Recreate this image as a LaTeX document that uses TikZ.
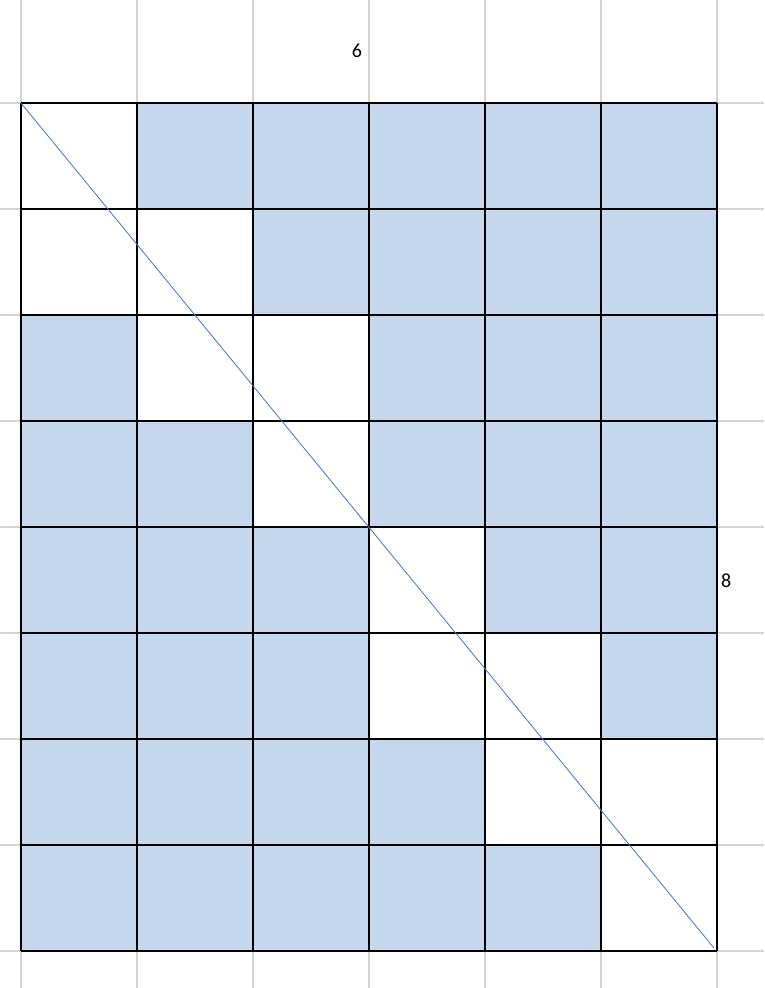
\documentclass[tikz,border=0pt]{standalone}
\usepackage{fontspec}
\setmainfont{Carlito}
\definecolor{cellblue}{RGB}{196,215,237}
\definecolor{gridgray}{RGB}{212,212,212}
\definecolor{diagblue}{RGB}{68,114,196}
\begin{document}
\begin{tikzpicture}[x=1pt,y=-1pt,
  gridline/.style={draw=gridgray,line width=1.6pt},
  frameline/.style={draw=black,line width=1.8pt},
  bluecell/.style={fill=cellblue},
  lbl/.style={font=\fontsize{20}{24}\selectfont,inner sep=0pt}]
\useasboundingbox (0,0) rectangle (764,988);
% spreadsheet gridlines
\foreach \x in {21,137,253,369,485,601,717} \draw[gridline] (\x,0) -- (\x,988);
\foreach \y in {103,209,315,421,527,633,739,845,951} \draw[gridline] (0,\y) -- (764,\y);
% blue cells: row r, columns listed
\foreach \r/\cols in {0/{1,2,3,4,5},1/{2,3,4,5},2/{0,3,4,5},3/{0,1,3,4,5},4/{0,1,2,4,5},5/{0,1,2,5},6/{0,1,2,3},7/{0,1,2,3,4}}{
  \foreach \c in \cols {
    \fill[bluecell] ({21+116*\c},{103+106*\r}) rectangle ++(116,106);
  }
}
% black cell frame
\foreach \x in {21,137,253,369,485,601,717} \draw[frameline] (\x,103) -- (\x,951);
\foreach \y in {103,209,315,421,527,633,739,845,951} \draw[frameline] (21,\y) -- (717,\y);
% diagonal
\coordinate (dstart) at (21,103);
\coordinate (dend) at (714,948);
\draw[diagblue,line width=0.8pt] (dstart) -- (dend);
% labels
\node[lbl] (six) at (357,51) {6};
\node[lbl,anchor=west] (eight) at (721,581) {8};
\end{tikzpicture}
\end{document}
